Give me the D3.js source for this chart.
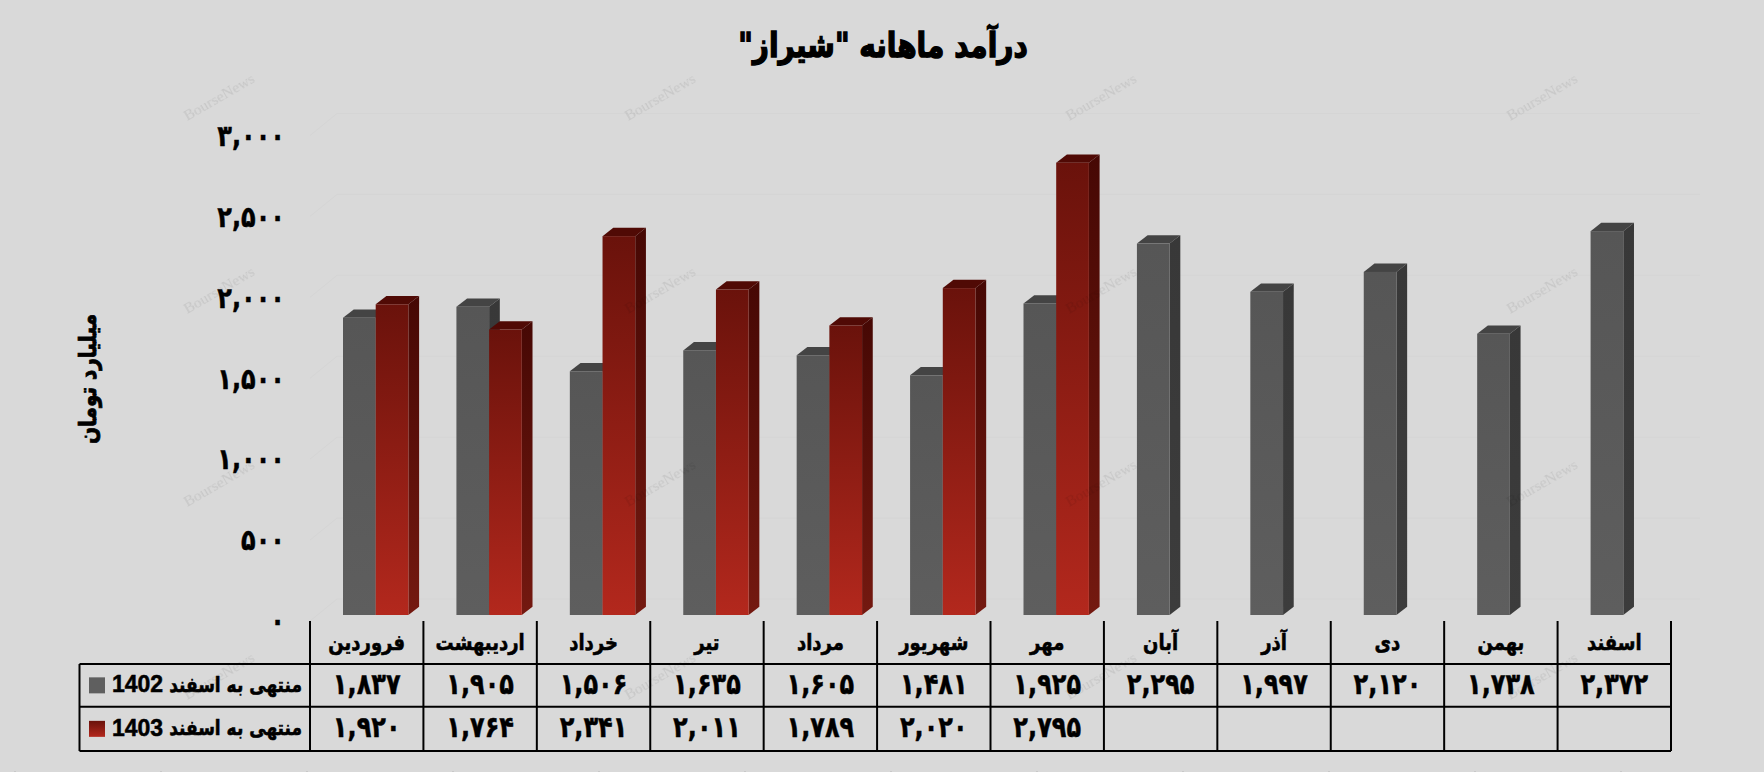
<!DOCTYPE html>
<html><head><meta charset="utf-8">
<script src="https://cdn.jsdelivr.net/npm/d3@7/dist/d3.min.js"></script>
<style>html,body{margin:0;padding:0;background:#d9d9d9}svg{display:block}text{font-family:"DejaVu Sans",sans-serif;font-weight:bold}</style>
</head><body><svg id="c" width="1764" height="772"></svg>
<script>
const categories=["فروردین","اردیبهشت","خرداد","تیر","مرداد","شهریور","مهر","آبان","آذر","دی","بهمن","اسفند"];
const seriesNames=["منتهی به اسفند 1402","منتهی به اسفند 1403"];
const values1402=[1837,1905,1506,1635,1605,1481,1925,2295,1997,2120,1738,2372];
const values1403=[1920,1764,2341,2011,1789,2020,2795,null,null,null,null,null];
const yTicks=[0,500,1000,1500,2000,2500,3000];
const titleText='درآمد ماهانه "شیراز"';
const yTitle="میلیارد تومان";
const watermark="BourseNews";

const fa=s=>String(s).replace(/\d/g,d=>"۰۱۲۳۴۵۶۷۸۹"[d]);
const fmt=v=>fa(d3.format(",")(v));
const svg=d3.select("#c");
const defs=svg.append("defs");
function grad(id,a,b){const g=defs.append("linearGradient").attr("id",id).attr("x1",0).attr("y1",0).attr("x2",0).attr("y2",1);
 g.append("stop").attr("offset",0).attr("stop-color",a);g.append("stop").attr("offset",1).attr("stop-color",b);}
grad("redF","#6a120b","#b3281d");grad("redS","#460804","#741910");
grad("grayF","#565656","#5e5e5e");grad("grayS","#383838","#3c3c3c");

const L=310,R=1671,legendL=79.5;
const x=d3.scaleBand().domain(categories).range([L,R]);
const slot=d3.scaleBand().domain(seriesNames).range([33,98.4]);
const y=d3.scaleLinear().domain([0,3000]).range([615,129.5]);
const dx=10.7,dy=8.3;      // bar depth
const wx=27,wy=22,wdy=6;   // wall depth

svg.append("rect").attr("width",1764).attr("height",772).attr("fill","#d9d9d9");

// gridlines: front edge then along back wall
const grid=svg.append("g").attr("fill","none").attr("stroke","#d5d5d5").attr("stroke-width",1);
yTicks.forEach(t=>{const yy=y(t)+wdy;
 grid.append("path").attr("d",`M${L},${yy}L${L+wx},${yy-wy}L${R+29},${yy-wy}`);});

// bars
const styles=[{f:"url(#grayF)",s:"url(#grayS)",t:"#444444"},{f:"url(#redF)",s:"url(#redS)",t:"#500a05"}];
[values1402,values1403].forEach((vals,si)=>{
 const st=styles[si];
 const g=svg.append("g").selectAll("g").data(categories.map((c,i)=>({c,v:vals[i]})).filter(d=>d.v!=null)).join("g");
 const X=d=>x(d.c)+slot(seriesNames[si]),W=slot.bandwidth();
 g.append("path").attr("fill",st.t).attr("d",d=>`M${X(d)},${y(d.v)}l${dx},${-dy}h${W}l${-dx},${dy}z`);
 g.append("path").attr("fill",st.s).attr("d",d=>`M${X(d)+W},${y(d.v)}l${dx},${-dy}V${y(0)-dy}l${-dx},${dy}z`);
 g.append("rect").attr("x",X).attr("y",d=>y(d.v)).attr("width",W).attr("height",d=>y(0)-y(d.v)).attr("fill",st.f);
});

const heavy=(s,w)=>s.attr("stroke","#000").attr("stroke-width",w).attr("fill","#000");
const K=1.22;
const at=(px,py,k=K)=>`translate(${px},${py}) scale(1,${k})`;

// y axis tick labels
heavy(svg.append("g").selectAll("text").data(yTicks).join("text")
 .attr("transform",t=>at(285,y(t)+wdy)).attr("dy","0.35em").attr("text-anchor","end").attr("font-size",24).text(fmt),0.4);

// data table
const rowY=[664,706.7,751],topY=621;
const tbl=svg.append("g").attr("stroke","#000").attr("stroke-width",2);
x.domain().forEach((c,i)=>tbl.append("line").attr("x1",x(c)).attr("x2",x(c)).attr("y1",topY).attr("y2",rowY[2]));
tbl.append("line").attr("x1",R).attr("x2",R).attr("y1",topY).attr("y2",rowY[2]);
tbl.append("line").attr("x1",legendL).attr("x2",legendL).attr("y1",rowY[0]).attr("y2",rowY[2]);
rowY.forEach(r=>tbl.append("line").attr("x1",legendL).attr("x2",R).attr("y1",r).attr("y2",r));

heavy(svg.append("g").selectAll("text").data(categories).join("text")
 .attr("transform",c=>at(x(c)+x.bandwidth()/2,642)).attr("dy","0.35em").attr("text-anchor","middle").attr("font-size",18).text(c=>c),0.5);
[values1402,values1403].forEach((vals,si)=>{
 const ry=(rowY[si]+rowY[si+1])/2;
 heavy(svg.append("g").selectAll("text").data(categories.map((c,i)=>({c,v:vals[i]})).filter(d=>d.v!=null)).join("text")
 .attr("transform",d=>at(x(d.c)+x.bandwidth()/2,ry-2)).attr("dy","0.35em").attr("text-anchor","middle").attr("font-size",24).text(d=>fmt(d.v)),0.4);
 svg.append("rect").attr("x",89).attr("y",ry-8).attr("width",16).attr("height",16).attr("fill",si?"url(#redF)":"#5f5f5f");
 const parts=seriesNames[si].split(" "), yr=parts.pop();
 heavy(svg.append("text").attr("transform",at(302,ry-1)).attr("dy","0.35em").attr("text-anchor","start").attr("direction","rtl").attr("font-size",17).text(parts.join(" ")),0.5);
 heavy(svg.append("text").attr("x",112).attr("y",ry-1).attr("dy","0.35em").attr("font-size",23).style("font-family","'Liberation Sans',sans-serif").text(yr),0.5);
});

// titles
heavy(svg.append("text").attr("transform",at(883,45)).attr("dy","0.35em").attr("text-anchor","middle").attr("direction","rtl").attr("font-size",28).text(titleText),1.2);
heavy(svg.append("text").attr("transform","translate(88,379) rotate(-90) scale(1,1.2)").attr("dy","0.35em").attr("text-anchor","middle").attr("direction","rtl").attr("font-size",20).text(yTitle),0.7);

// watermarks
const wmX=[219,660,1101,1542],wmY=[97,290,483,676];
const wm=svg.append("g").attr("fill","#000").attr("opacity",0.09);
wmX.forEach(a=>wmY.forEach(b=>wm.append("text").attr("transform",`translate(${a},${b}) rotate(-30)`).attr("text-anchor","middle").attr("dy","0.35em")
 .attr("font-size",15.5).style("font-family","'Liberation Serif',serif").style("font-weight","normal").text(watermark)));

// small watermark fragments on the lower edge
svg.append("g").selectAll("rect").data(d3.range(15,1764,146)).join("rect")
 .attr("x",d=>d-1).attr("y",771).attr("width",2).attr("height",1).attr("fill","#c8c8c8");
</script></body></html>
